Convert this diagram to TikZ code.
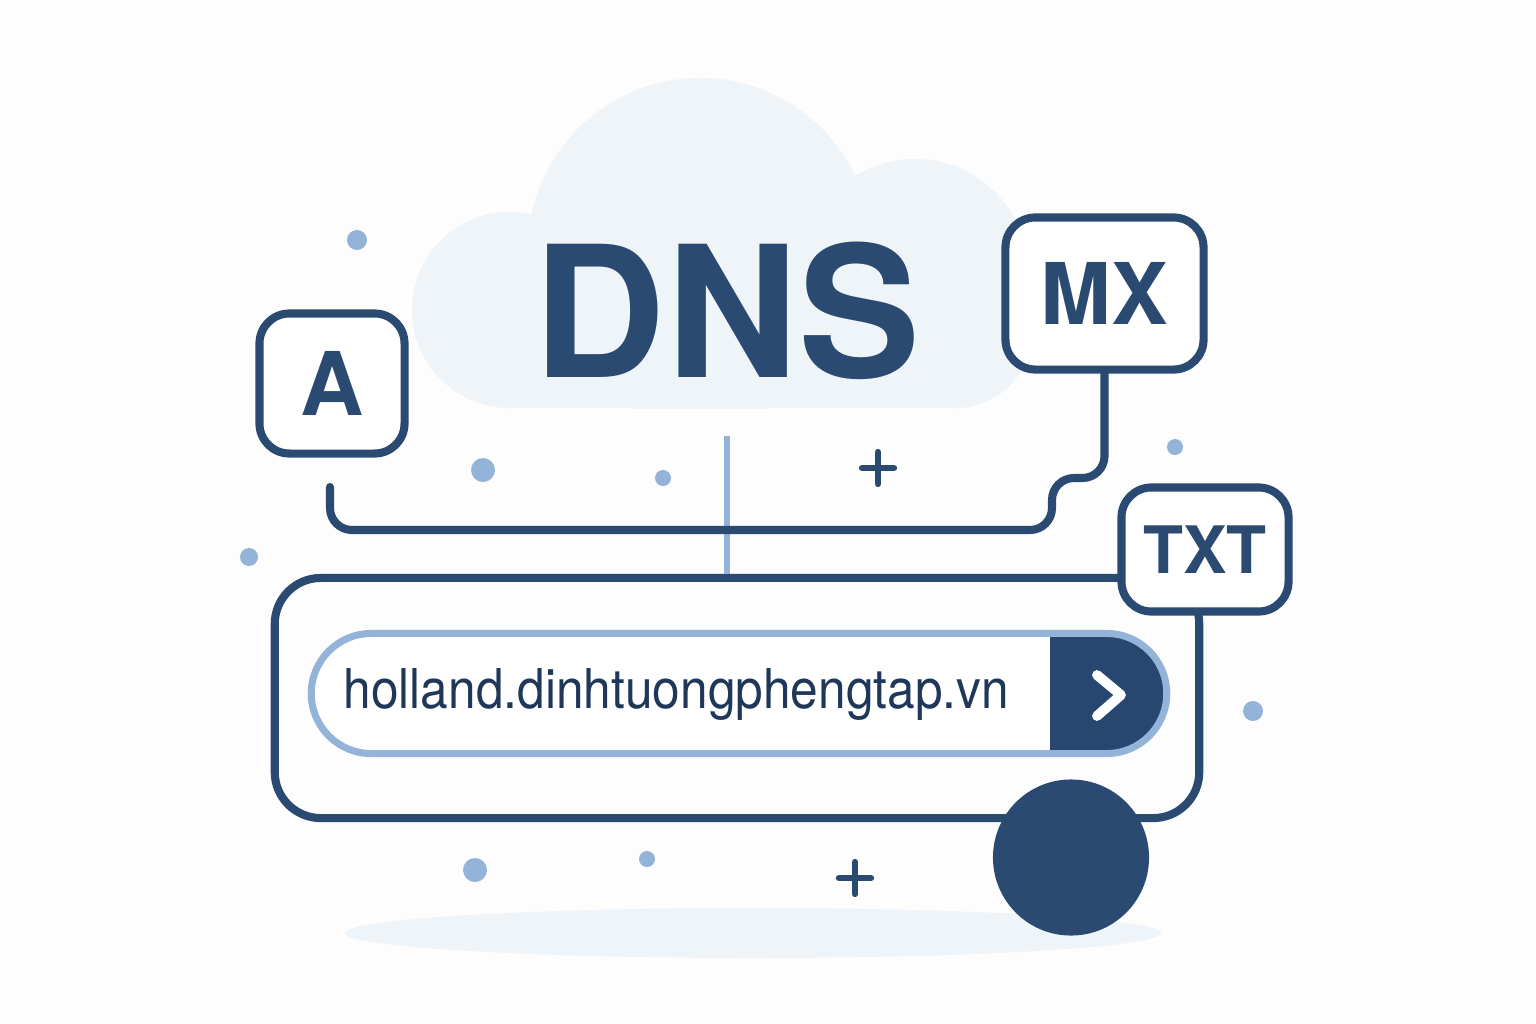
\documentclass[tikz,border=0pt]{standalone}
\usepackage{fontspec}
\setmainfont{TeX Gyre Heros}
\usepackage{graphicx}
\usetikzlibrary{backgrounds,scopes}
\definecolor{navy}{HTML}{2A4A72}
\definecolor{deepnavy}{HTML}{274670}
\definecolor{sky}{HTML}{93B4D8}
\definecolor{mist}{HTML}{EFF4F9}
\definecolor{ink}{HTML}{1F3759}
\definecolor{paper}{HTML}{FDFDFD}

\begin{document}
\begin{tikzpicture}[x=0.01cm,y=-0.01cm,
		record/.style={draw=navy,line width=2.3pt,fill=white,rounded corners=0.3cm,text=navy,inner sep=0pt},
		link/.style={navy,line width=2.3pt,line cap=round,rounded corners=0.22cm}]
		\newcommand{\speck}[3]{\fill[sky] (#1,#2) circle (#3cm);}
		\newcommand{\plusmark}[2]{\draw[navy,line width=1.8pt,line cap=round] (#1-16,#2) -- (#1+16,#2) (#1,#2-16) -- (#1,#2+16);}
		
		\useasboundingbox (0,0) rectangle (1536,1024);
		\fill[paper] (0,0) rectangle (1536,1024);
		\fill[mist] (753,933) ellipse (4.08cm and 0.25cm);
		
		\begin{scope}
			\clip (0,0) rectangle (1536,408);
			\fill[mist] (510,310) circle (0.98cm);
			\fill[mist] (700,250) circle (1.72cm);
			\fill[mist] (915,272) circle (1.13cm);
			\fill[mist] (955,330) circle (0.78cm);
			\fill[mist] (510,240) rectangle (955,408);
		\end{scope}
		
		\node[anchor=base,inner sep=0pt,text=navy,font=\bfseries\fontsize{52}{52}\selectfont] (dns) at (727,377) {DNS};
		
		\speck{357}{240}{0.10}
		\speck{483}{470}{0.12}
		\speck{663}{478}{0.08}
		\speck{249}{557}{0.09}
		\speck{1175}{447}{0.08}
		\speck{1253}{711}{0.10}
		\speck{475}{870}{0.12}
		\speck{647}{859}{0.08}
		
		\plusmark{878}{468}
		\plusmark{855}{878}
		
		\node[draw=navy,line width=2.3pt,rounded corners=0.46cm,minimum width=9.24cm,minimum height=2.40cm,inner sep=0pt] (frame) at (737,698) {};
		\coordinate (stemtop) at (727,436);
		\draw[sky,line width=1.8pt] (stemtop) -- (stemtop |- frame.north);
		
		\node[draw=sky,line width=2pt,fill=white,rounded corners=0.6cm,minimum width=8.55cm,minimum height=1.2cm,inner sep=0pt,
			path picture={\fill[deepnavy,sharp corners] ([xshift=-1.17cm]path picture bounding box.north east) rectangle (path picture bounding box.south east);}] (search) at (739,693.5) {};
		\draw[white,line width=2.8pt,line cap=round,line join=round] (1097,675) -- (1121,695) -- (1097,716);
		\node[anchor=base west,inner sep=0pt,text=ink,font=\fontsize{15.6}{16}\selectfont] (url) at (343,708) {\scalebox{0.905}[1]{holland.dinhtuongphengtap.vn}};
		
		\node[circle,fill=navy,minimum size=1.56cm,inner sep=0pt] (knob) at (1071,857.5) {};
		
		\node[record,minimum width=1.45cm,minimum height=1.40cm,font=\bfseries\fontsize{25}{25}\selectfont] (reca) at (332,383.5) {A};
		\node[record,minimum width=1.98cm,minimum height=1.52cm,font=\bfseries\fontsize{24.2}{24.2}\selectfont] (recmx) at (1104.5,293.5) {MX};
		\node[record,minimum width=1.67cm,minimum height=1.24cm,font=\bfseries\fontsize{18.6}{18.6}\selectfont] (rectxt) at (1205,549.5) {TXT};
		
		\coordinate (aend) at (330,487);
		\draw[link] (aend) -- (330,530) -- (1052,530) -- (1052,478) -- (1104.5,478) -- (recmx.south);
\end{tikzpicture}
\end{document}
